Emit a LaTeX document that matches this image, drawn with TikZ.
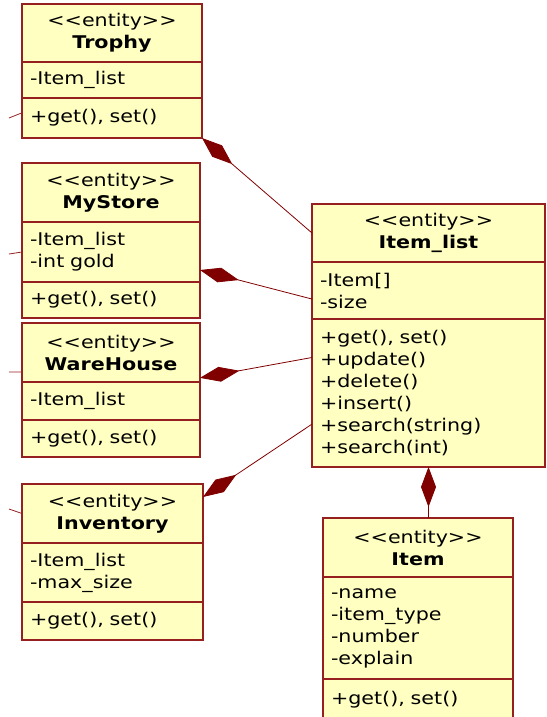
\documentclass[tikz,border=0pt]{standalone}
\usepackage{fontspec}
\setmainfont[FakeStretch=1.18]{DejaVu Sans}
\usepackage{xcolor}
\usetikzlibrary{arrows.meta,positioning,calc}

\definecolor{umlfill}{RGB}{255,255,194}
\definecolor{umlline}{RGB}{150,32,32}
\definecolor{umldark}{RGB}{128,0,0}

\begin{document}
\begin{tikzpicture}[
    x=1pt, y=-1pt,
    node distance=0pt,
    part/.style={rectangle, draw=umlline, line width=1.6pt, fill=umlfill, outer sep=0pt, inner xsep=8pt, inner ysep=2pt, font=\fontsize{17.5}{22}\selectfont},
    head/.style={part, align=center},
    body/.style={part, align=left},
    comp/.style={{Diamond[length=40pt,width=15pt,fill=umldark]}-, draw=umldark, line width=0.8pt},
    stub/.style={draw=umlline, line width=0.8pt}
]
\useasboundingbox (0,0) rectangle (546,717);
\clip (0,0) rectangle (546,717);

% Trophy
\node[head, text width=164pt, minimum height=58pt, anchor=north west] (trophyhead) at (22,4) {<\kern0pt<entity>\kern0pt>\\\textbf{Trophy}};
\node[body, text width=164pt, minimum height=36pt, below=of trophyhead] (trophyattr) {-Item\_list};
\node[body, text width=164pt, minimum height=40pt, below=of trophyattr] (trophyops) {+get(), set()};

% MyStore
\node[head, text width=162pt, minimum height=59pt, anchor=north west] (storehead) at (22,163) {<\kern0pt<entity>\kern0pt>\\\textbf{MyStore}};
\node[body, text width=162pt, minimum height=60pt, below=of storehead] (storeattr) {-Item\_list\\-int gold};
\node[body, text width=162pt, minimum height=36pt, below=of storeattr] (storeops) {+get(), set()};

% WareHouse
\node[head, text width=162pt, minimum height=59pt, anchor=north west] (warehead) at (22,323) {<\kern0pt<entity>\kern0pt>\\\textbf{WareHouse}};
\node[body, text width=162pt, minimum height=38pt, below=of warehead] (wareattr) {-Item\_list};
\node[body, text width=162pt, minimum height=37pt, below=of wareattr] (wareops) {+get(), set()};

% Inventory
\node[head, text width=165pt, minimum height=59pt, anchor=north west] (invhead) at (22,484) {<\kern0pt<entity>\kern0pt>\\\textbf{Inventory}};
\node[body, text width=165pt, minimum height=59pt, below=of invhead] (invattr) {-Item\_list\\-max\_size};
\node[body, text width=165pt, minimum height=38pt, below=of invattr] (invops) {+get(), set()};

% Item_list
\node[head, text width=217pt, minimum height=58pt, anchor=north west] (listhead) at (312,204) {<\kern0pt<entity>\kern0pt>\\\textbf{Item\_list}};
\node[body, text width=217pt, minimum height=57pt, below=of listhead] (listattr) {-Item[]\\-size};
\node[body, text width=217pt, minimum height=148pt, below=of listattr] (listops) {+get(), set()\\+update()\\+delete()\\+insert()\\+search(string)\\+search(int)};

% Item
\node[head, text width=174pt, minimum height=59pt, anchor=north west] (itemhead) at (323,518) {<\kern0pt<entity>\kern0pt>\\\textbf{Item}};
\node[body, text width=174pt, minimum height=102pt, below=of itemhead] (itemattr) {-name\\-item\_type\\-number\\-explain};
\node[body, text width=174pt, minimum height=41pt, below=of itemattr] (itemops) {+get(), set()};

% compositions
\draw[comp] (trophyops.south east) -- (listhead.west);
\draw[comp] ($(storeattr.north east)!0.8!(storeattr.south east)$) -- ($(listattr.north west)!0.65!(listattr.south west)$);
\draw[comp] ($(warehead.north east)!0.93!(warehead.south east)$) -- ($(listops.north west)!0.26!(listops.south west)$);
\draw[comp] ($(invhead.north east)!0.22!(invhead.south east)$) -- ($(listops.north west)!0.71!(listops.south west)$);
\draw[comp] (listops.south) -- (listops.south |- itemhead.north);

% cut-off links on the left
\coordinate (trophyend) at (9,118);
\coordinate (storeend) at (9,254);
\coordinate (wareend) at (9,372);
\coordinate (invend) at (9,509);
\draw[stub] ($(trophyops.north west)!0.37!(trophyops.south west)$) -- (trophyend);
\draw[stub] (storeattr.west) -- (storeend);
\draw[stub] ($(warehead.north west)!0.83!(warehead.south west)$) -- (wareend);
\draw[stub] (invhead.west) -- (invend);
\end{tikzpicture}
\end{document}
